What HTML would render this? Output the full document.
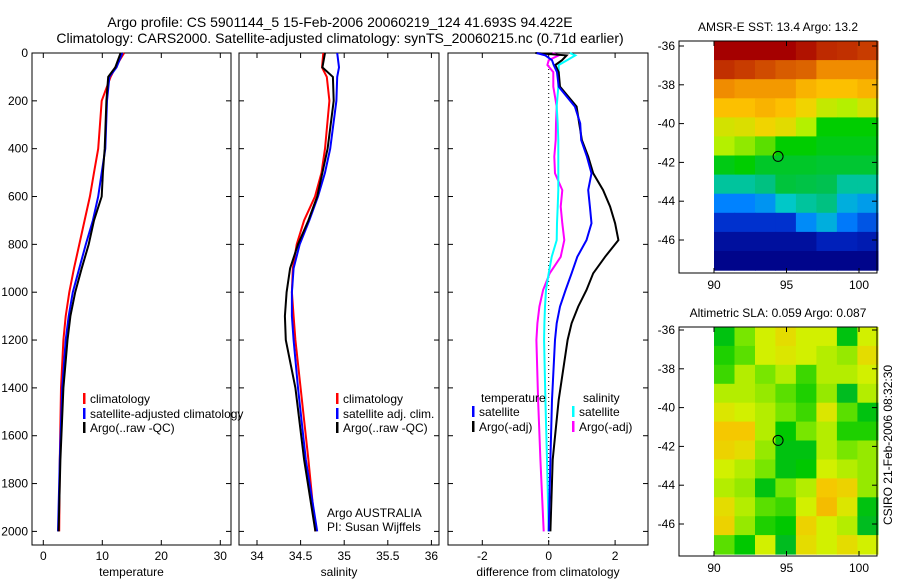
<!DOCTYPE html>
<html><head><meta charset="utf-8"><style>
body{margin:0;background:#fff}
svg text{font-family:"Liberation Sans",sans-serif;font-size:12px;fill:#000}
</style></head><body>
<svg id="c" width="900" height="580" viewBox="0 0 900 580" xmlns="http://www.w3.org/2000/svg">
<rect width="900" height="580" fill="#fff"/>
<text x="340" y="27" text-anchor="middle" style="font-size:14px">Argo profile: CS 5901144_5 15-Feb-2006 20060219_124 41.693S 94.422E</text>
<text x="340" y="43" text-anchor="middle" style="font-size:14px">Climatology: CARS2000. Satellite-adjusted climatology: synTS_20060215.nc (0.71d earlier)</text>
<text x="778" y="31" text-anchor="middle">AMSR-E SST: 13.4 Argo: 13.2</text>
<text x="778" y="317" text-anchor="middle">Altimetric SLA: 0.059 Argo: 0.087</text>
<text transform="translate(892,445) rotate(-90)" text-anchor="middle">CSIRO 21-Feb-2006 08:32:30</text>
<g id="g"></g>
</svg>
<script>
const depthTicks=[0,200,400,600,800,1000,1200,1400,1600,1800,2000];
const depths=[0,60,100,200,400,500,600,700,800,900,1000,1100,1200,1400,1700,2000];
const tempClim=[13.7,12.2,11.4,9.9,9.3,8.6,7.9,7.0,6.1,5.2,4.4,3.8,3.4,3.0,2.8,2.7];
const tempSat=[13.4,12.4,11.2,10.8,10.5,9.9,9.3,8.4,7.2,6.1,5.0,4.3,3.8,3.2,2.8,2.5];
const tempArgo=[13.1,12.2,11.0,10.7,10.4,10.1,9.9,8.6,7.7,6.5,5.4,4.6,4.1,3.4,2.9,2.6];
const salClim=[34.76,34.745,34.80,34.83,34.78,34.74,34.665,34.54,34.455,34.41,34.40,34.42,34.44,34.50,34.59,34.67];
const salSat=[34.92,34.94,34.92,34.91,34.84,34.78,34.70,34.60,34.49,34.42,34.40,34.40,34.42,34.47,34.56,34.69];
const salArgo=[34.78,34.75,34.87,34.88,34.81,34.75,34.69,34.59,34.47,34.38,34.34,34.32,34.33,34.44,34.54,34.67];
const diffDepths=[0,10,30,50,80,141,224,294,364,433,503,573,642,712,782,852,921,991,1060,1130,1200,1450,1700,2000];
const dTempSat=[-0.36,-0.1,0.1,0.15,0.25,0.3,0.79,0.95,0.98,1.15,1.29,1.19,1.24,1.29,1.14,0.86,0.69,0.51,0.34,0.24,0.19,0.1,0.05,0.0];
const dTempArgo=[-0.4,0.54,0.4,0.2,0.3,0.34,0.84,0.92,1.0,1.19,1.34,1.64,1.85,2.0,2.1,1.7,1.34,1.14,0.89,0.69,0.57,0.3,0.12,0.05];
const dSalSat=[0.64,0.8,0.55,0.3,0.3,0.29,0.24,0.27,0.29,0.29,0.29,0.29,0.27,0.25,0.24,0.09,0.0,-0.08,-0.11,-0.13,-0.14,-0.1,-0.05,0.0];
const dSalArgo=[0.11,0.3,0.0,-0.04,0.14,0.14,0.24,0.22,0.21,0.17,0.19,0.41,0.36,0.41,0.47,0.36,0.03,-0.17,-0.28,-0.34,-0.37,-0.32,-0.25,-0.15];
const tempTicks=[0,10,20,30];
const salTicks=[34,34.5,35,35.5,36];
const diffTicks=[-2,0,2];
const latTicks=[-36,-38,-40,-42,-44,-46];
const lonTicks=[90,95,100];
const sst=[
[1,1,1,1,.97,.93,.92,.9],
[.92,.9,.88,.86,.85,.8,.8,.8],
[.8,.78,.78,.78,.74,.72,.72,.74],
[.72,.72,.74,.72,.68,.62,.6,.64],
[.64,.65,.68,.66,.6,.5,.5,.5],
[.6,.58,.55,.5,.5,.48,.48,.48],
[.48,.5,.46,.46,.46,.45,.45,.45],
[.36,.36,.38,.44,.43,.42,.36,.36],
[.25,.25,.27,.33,.36,.38,.3,.28],
[.16,.16,.16,.16,.26,.3,.24,.2],
[.06,.06,.06,.06,.06,.12,.12,.1],
[.02,.02,.02,.02,.02,.02,.02,.02]];
const sla=[
[.2,.45,.6,.7,.6,.6,.2,.6],
[.3,.4,.6,.65,.6,.55,.5,.7],
[.35,.55,.45,.55,.35,.55,.55,.6],
[.55,.55,.5,.4,.3,.5,.15,.55],
[.65,.6,.55,.45,.35,.65,.4,.2],
[.8,.8,.55,.25,.45,.55,.3,.3],
[.75,.7,.5,.2,.2,.55,.45,.5],
[.6,.55,.45,.2,.25,.6,.55,.5],
[.55,.5,.2,.45,.55,.8,.75,.5],
[.7,.55,.4,.35,.6,.85,.65,.2],
[.75,.5,.3,.25,.75,.6,.55,.15],
[.4,.25,.6,.15,.7,.6,.7,.6]];
const argoLon=94.42, argoLat=-41.69;

const NS='http://www.w3.org/2000/svg', G=document.getElementById('g');
function mk(t,a,p){const e=document.createElementNS(NS,t);for(const k in a)e.setAttribute(k,a[k]);(p||G).appendChild(e);return e;}
const yD=d=>53+d*0.2392;
const TOP=53,BOT=545;
function panel(name,x0,x1,xf,ticks,label,showY){
  const g=mk('g',{});
  
  
  mk('rect',{x:x0,y:TOP,width:x1-x0,height:BOT-TOP,fill:'none',stroke:'#000','stroke-width':1},g);
  ticks.forEach(t=>{const x=xf(t);
    mk('line',{x1:x,x2:x,y1:TOP,y2:TOP+5,stroke:'#000'},g);
    mk('line',{x1:x,x2:x,y1:BOT,y2:BOT-5,stroke:'#000'},g);
    const tx=mk('text',{x:x,y:BOT+15,'text-anchor':'middle'},g);tx.textContent=t;
    
    });
  depthTicks.forEach(d=>{const y=yD(d);
    mk('line',{x1:x0,x2:x0+5,y1:y,y2:y,stroke:'#000'},g);
    mk('line',{x1:x1,x2:x1-5,y1:y,y2:y,stroke:'#000'},g);
    if(showY){const tx=mk('text',{x:x0-4,y:y+4,'text-anchor':'end'},g);tx.textContent=d;
      
      }});
  const l=mk('text',{x:(x0+x1)/2,y:576,'text-anchor':'middle'},g);l.textContent=label;
  
  
  return g;
}
function line(name,xs,ds,xf,col){
  const p=mk('polyline',{points:xs.map((v,i)=>xf(v).toFixed(1)+','+yD(ds[i]).toFixed(1)).join(' '),fill:'none',stroke:col,'stroke-width':2});
  
  
}
function legend(name,x,y,col,txt){
  const g=mk('g',{});
  
  
  mk('rect',{x:x,y:y-10,width:2.5,height:11,fill:col},g);
  const t=mk('text',{x:x+7,y:y},g);t.textContent=txt;
}
const xT=t=>43.3+5.9*t, xS=s=>257+87.2*(s-34), xDf=v=>548.7+33.2*v;
panel('temperature-panel',32,231,xT,tempTicks,'temperature',true);
line('temp-climatology',tempClim,depths,xT,'#f00');
line('temp-satellite-adjusted',tempSat,depths,xT,'#00f');
line('temp-argo',tempArgo,depths,xT,'#000');
legend('legend-climatology',83,403,'#f00','climatology');
legend('legend-satellite-adjusted',83,418,'#00f','satellite-adjusted climatology');
legend('legend-argo',83,432,'#000','Argo(..raw -QC)');
panel('salinity-panel',239,439,xS,salTicks,'salinity',false);
line('sal-climatology',salClim,depths,xS,'#f00');
line('sal-satellite-adjusted',salSat,depths,xS,'#00f');
line('sal-argo',salArgo,depths,xS,'#000');
legend('legend-sal-climatology',336,403,'#f00','climatology');
legend('legend-sal-satellite',336,418,'#00f','satellite adj. clim.');
legend('legend-sal-argo',336,432,'#000','Argo(..raw -QC)');
{const t=mk('text',{x:327,y:517});t.textContent='Argo AUSTRALIA';
 const t2=mk('text',{x:327,y:531});t2.textContent='PI: Susan Wijffels';}
panel('difference-panel',448,648,xDf,diffTicks,'difference from climatology',false);
mk('line',{x1:xDf(0),x2:xDf(0),y1:TOP,y2:BOT,stroke:'#000','stroke-dasharray':'1,3'});
line('diff-salinity-argo',dSalArgo,diffDepths,xDf,'#f0f');
line('diff-salinity-satellite',dSalSat,diffDepths,xDf,'#0ff');
line('diff-temp-argo',dTempArgo,diffDepths,xDf,'#000');
line('diff-temp-satellite',dTempSat,diffDepths,xDf,'#00f');
{const t=mk('text',{x:481,y:402});t.textContent='temperature';
 const t2=mk('text',{x:583,y:402});t2.textContent='salinity';}
legend('legend-diff-temp-satellite',472,416,'#00f','satellite');
legend('legend-diff-temp-argo',472,431,'#000','Argo(-adj)');
legend('legend-diff-sal-satellite',572,416,'#0ff','satellite');
legend('legend-diff-sal-argo',572,431,'#f0f','Argo(-adj)');

function ramp(stops,v){for(let i=1;i<stops.length;i++){if(v<=stops[i][0]){const[a,ca]=stops[i-1],[b,cb]=stops[i];const f=(v-a)/(b-a);return 'rgb('+ca.map((x,k)=>Math.round(x+(cb[k]-x)*f)).join(',')+')';}}return 'rgb('+stops[stops.length-1][1].join(',')+')';}
const sstStops=[[0,[0,0,130]],[.15,[0,40,200]],[.25,[0,130,255]],[.33,[0,200,200]],[.4,[0,190,100]],[.5,[0,205,0]],[.6,[180,240,0]],[.7,[255,205,0]],[.8,[240,140,0]],[.9,[200,60,0]],[1,[165,0,0]]];
const slaStops=[[0,[0,170,80]],[.25,[0,200,0]],[.45,[120,230,0]],[.6,[210,240,0]],[.8,[245,200,0]],[1,[240,150,0]]];
const sstCol=v=>ramp(sstStops,v), slaCol=v=>ramp(slaStops,v);
function map(name,top,bottom,lat36y,grid,cf){
  const x0=679,x1=877,ppd=14.5,ppl=19.4;
  const xL=l=>714+(l-90)*ppd, yL=l=>lat36y+(-36-l)*ppl;
  const g=mk('g',{});
  
  
  const latTop=-36+(lat36y-top)/ppl, latBot=-47.55;
  const nr=grid.length,nc=grid[0].length,dLat=(latTop-latBot)/nr,dLon=11.3/nc;
  grid.forEach((row,i)=>row.forEach((v,j)=>{
    const c=mk('rect',{x:xL(90+j*dLon).toFixed(1),y:yL(latTop-i*dLat).toFixed(1),width:(dLon*ppd+0.6).toFixed(1),height:(dLat*ppl+0.6).toFixed(1),fill:cf(v)},g);
    
    }));
  mk('rect',{x:x0,y:top,width:x1-x0,height:bottom-top,fill:'none',stroke:'#000'},g);
  latTicks.forEach(l=>{const y=yL(l);mk('line',{x1:x0,x2:x0+5,y1:y,y2:y,stroke:'#000'},g);mk('line',{x1:x1,x2:x1-5,y1:y,y2:y,stroke:'#000'},g);
    const t=mk('text',{x:x0-4,y:y+4,'text-anchor':'end'},g);t.textContent=l;});
  lonTicks.forEach(l=>{const x=xL(l);mk('line',{x1:x,x2:x,y1:top,y2:top+5,stroke:'#000'},g);mk('line',{x1:x,x2:x,y1:bottom,y2:bottom-5,stroke:'#000'},g);
    const t=mk('text',{x:x,y:bottom+16,'text-anchor':'middle'},g);t.textContent=l;});
  const m=mk('circle',{cx:xL(argoLon),cy:yL(argoLat),r:5,fill:'none',stroke:'#000'},g);
  
  
}
map('sst-map',41,273,46,sst,sstCol);
map('sla-map',327,556,330,sla,slaCol);
</script>
</body></html>
